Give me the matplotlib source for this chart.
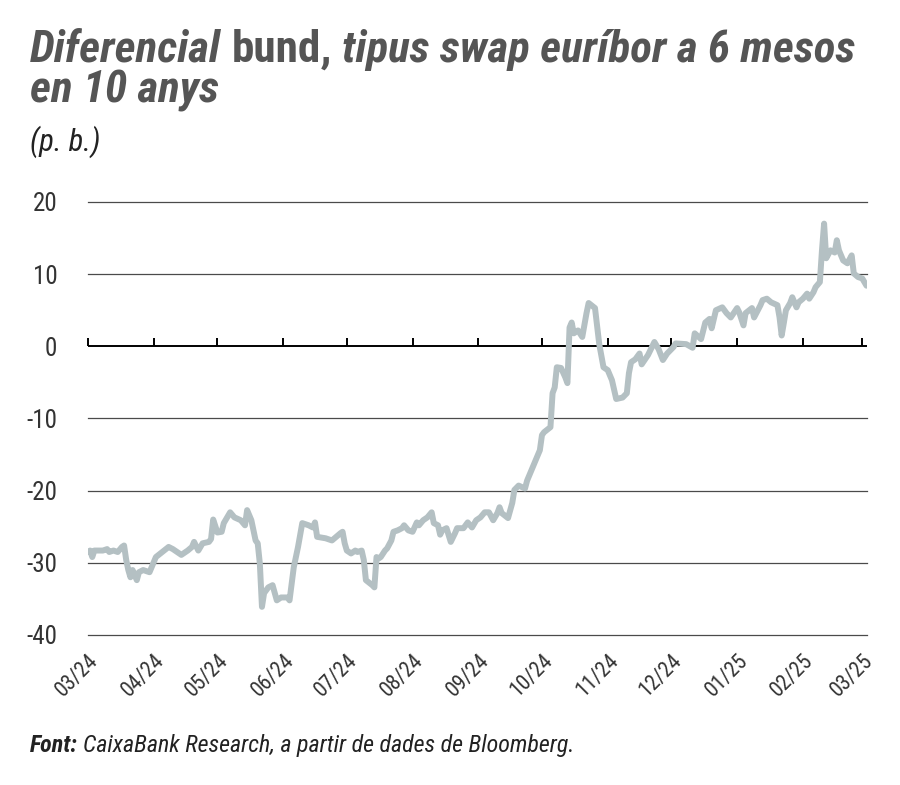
import matplotlib
matplotlib.use('Agg')
import matplotlib.pyplot as plt
import pandas as pd

# spread, basis points
dates = [
    '2024-03-01', '2024-03-02', '2024-03-03', '2024-03-04', '2024-03-08', '2024-03-10',
    '2024-03-11', '2024-03-13', '2024-03-15', '2024-03-17', '2024-03-18', '2024-03-19',
    '2024-03-20', '2024-03-21', '2024-03-22', '2024-03-24', '2024-03-25', '2024-03-27',
    '2024-03-30', '2024-04-02', '2024-04-05', '2024-04-08', '2024-04-10', '2024-04-14',
    '2024-04-17', '2024-04-19', '2024-04-20', '2024-04-22', '2024-04-24', '2024-04-27',
    '2024-04-28', '2024-04-29', '2024-05-01', '2024-05-03', '2024-05-04', '2024-05-07',
    '2024-05-09', '2024-05-12', '2024-05-14', '2024-05-15', '2024-05-17', '2024-05-19',
    '2024-05-20', '2024-05-21', '2024-05-22', '2024-05-23', '2024-05-25', '2024-05-27',
    '2024-05-29', '2024-05-31', '2024-06-03', '2024-06-04', '2024-06-06', '2024-06-08',
    '2024-06-10', '2024-06-13', '2024-06-15', '2024-06-16', '2024-06-17', '2024-06-21',
    '2024-06-24', '2024-06-26', '2024-06-28', '2024-06-29', '2024-06-30', '2024-07-01',
    '2024-07-03', '2024-07-05', '2024-07-06', '2024-07-08', '2024-07-09', '2024-07-10',
    '2024-07-13', '2024-07-14', '2024-07-15', '2024-07-16', '2024-07-17', '2024-07-19',
    '2024-07-20', '2024-07-22', '2024-07-23', '2024-07-25', '2024-07-27', '2024-07-28',
    '2024-07-30', '2024-08-01', '2024-08-03', '2024-08-04', '2024-08-06', '2024-08-08',
    '2024-08-10', '2024-08-11', '2024-08-13', '2024-08-14', '2024-08-15', '2024-08-17',
    '2024-08-19', '2024-08-21', '2024-08-22', '2024-08-25', '2024-08-27', '2024-08-29',
    '2024-08-31', '2024-09-02', '2024-09-04', '2024-09-06', '2024-09-08', '2024-09-10',
    '2024-09-11', '2024-09-12', '2024-09-15', '2024-09-17', '2024-09-18', '2024-09-20',
    '2024-09-23', '2024-09-24', '2024-09-26', '2024-09-28', '2024-09-30', '2024-10-01',
    '2024-10-02', '2024-10-05', '2024-10-06', '2024-10-07', '2024-10-08', '2024-10-10',
    '2024-10-12', '2024-10-13', '2024-10-14', '2024-10-15', '2024-10-16', '2024-10-18',
    '2024-10-20', '2024-10-22', '2024-10-23', '2024-10-26', '2024-10-28', '2024-10-30',
    '2024-11-01', '2024-11-03', '2024-11-05', '2024-11-08', '2024-11-10', '2024-11-11',
    '2024-11-12', '2024-11-14', '2024-11-16', '2024-11-17', '2024-11-20', '2024-11-23',
    '2024-11-25', '2024-11-27', '2024-11-29', '2024-12-02', '2024-12-03', '2024-12-08',
    '2024-12-11', '2024-12-12', '2024-12-15', '2024-12-17', '2024-12-19', '2024-12-20',
    '2024-12-22', '2024-12-25', '2024-12-27', '2024-12-29', '2025-01-01', '2025-01-02',
    '2025-01-04', '2025-01-05', '2025-01-08', '2025-01-09', '2025-01-12', '2025-01-13',
    '2025-01-15', '2025-01-17', '2025-01-20', '2025-01-21', '2025-01-22', '2025-01-23',
    '2025-01-24', '2025-01-26', '2025-01-27', '2025-01-29', '2025-01-30', '2025-02-01',
    '2025-02-03', '2025-02-04', '2025-02-06', '2025-02-07', '2025-02-09', '2025-02-10',
    '2025-02-11', '2025-02-12', '2025-02-14', '2025-02-16', '2025-02-17', '2025-02-18',
    '2025-02-20', '2025-02-22', '2025-02-24', '2025-02-25', '2025-02-27', '2025-03-01',
    '2025-03-03',
]
values = [
    -28.5, -28.3, -29.2, -28.3, -28.3, -28.1,
    -28.5, -28.3, -28.5, -27.8, -27.6, -29.6,
    -31.0, -32.0, -31.0, -32.4, -31.3, -31.0,
    -31.3, -29.2, -28.5, -27.8, -28.1, -28.9,
    -28.3, -27.8, -27.1, -28.3, -27.3, -27.1,
    -26.7, -24.0, -25.8, -25.7, -24.5, -23.0,
    -23.7, -24.1, -24.8, -22.7, -24.1, -26.9,
    -27.3, -30.1, -36.1, -34.2, -33.4, -33.1,
    -35.2, -34.8, -34.8, -35.2, -30.6, -27.8,
    -24.5, -24.8, -25.1, -24.4, -26.4, -26.6,
    -26.9, -26.4, -25.9, -25.7, -27.3, -28.3,
    -28.7, -28.3, -28.5, -28.3, -29.6, -32.4,
    -33.1, -33.4, -29.2, -29.4, -29.2, -28.3,
    -28.0, -26.9, -25.7, -25.5, -25.2, -24.8,
    -25.5, -25.7, -24.4, -24.8, -24.1, -23.7,
    -23.0, -24.5, -24.8, -26.1, -25.5, -25.2,
    -27.1, -25.9, -25.2, -25.2, -24.4, -25.1,
    -24.1, -23.7, -23.0, -23.0, -24.1, -23.1,
    -22.3, -23.1, -23.8, -21.7, -19.9, -19.3,
    -19.7, -18.6, -17.2, -15.8, -14.4, -12.3,
    -11.9, -11.2, -6.5, -5.7, -2.9, -3.0,
    -4.3, -5.1, 2.6, 3.3, 1.8, 2.2,
    1.3, 4.6, 6.0, 5.3, 0.3, -2.9,
    -3.3, -4.7, -7.3, -7.1, -6.5, -3.7,
    -2.2, -1.8, -1.0, -2.5, -1.2, 0.6,
    -0.4, -1.9, -1.0, -0.1, 0.4, 0.3,
    -0.2, 1.8, 1.0, 3.3, 3.8, 2.5,
    5.0, 5.4, 4.6, 4.0, 5.3, 4.7,
    2.9, 4.6, 5.3, 4.0, 5.7, 6.4,
    6.6, 6.1, 5.7, 4.0, 1.5, 3.2,
    5.0, 6.0, 6.8, 5.4, 6.1, 6.6,
    7.3, 6.6, 7.5, 8.2, 8.9, 13.3,
    17.0, 12.2, 13.3, 13.0, 14.7, 13.3,
    11.9, 11.5, 12.6, 10.1, 9.6, 9.4,
    8.4,
]
y_ticks = [20, 10, 0, -10, -20, -30, -40]
month_ticks = pd.date_range('2024-03-01', '2025-03-01', freq='MS')
month_labels = [d.strftime('%m/%y') for d in month_ticks]

NARROW = ['Roboto Condensed', 'Lato', 'DejaVu Sans']
TXT = '#555555'

fig = plt.figure(figsize=(9, 7.85), dpi=100)
ax = fig.add_axes([0.0978, 0.1911, 0.865, 0.5516])

ax.plot(pd.to_datetime(dates), values, color='#b4c0c3', linewidth=4.3,
        solid_joinstyle='round', solid_capstyle='round', zorder=3)

for y in y_ticks:
    if y != 0:
        ax.axhline(y, color='#4a4a4a', linewidth=0.9, zorder=1, clip_on=False)
ax.axhline(0, color='black', linewidth=1.4, zorder=2)
ax.vlines(month_ticks, 0, 1.1, color='black', linewidth=1.4, zorder=2, clip_on=False)

ax.set_ylim(-40, 20)
ax.set_xlim(pd.Timestamp('2024-03-01'), pd.Timestamp('2025-03-03'))
for s in ax.spines.values():
    s.set_visible(False)

ax.set_yticks(y_ticks)
ax.set_yticklabels([str(v) for v in y_ticks], family=NARROW, fontsize=18, color='#333333')
ax.tick_params(axis='y', length=0, pad=22)

ax.set_xticks(month_ticks)
ax.set_xticklabels(month_labels, rotation=45, ha='right', va='top', rotation_mode='anchor',
                   family=NARROW, fontsize=15.5, color='#333333')
ax.tick_params(axis='x', length=0, pad=11)

fig.canvas.draw()
r = fig.canvas.get_renderer()
W = fig.bbox.width


def width_of(txt, size, weight, style):
    t = fig.text(0, 0, txt, fontsize=size, fontweight=weight, fontstyle=style, family=NARROW)
    w = t.get_window_extent(r).width
    t.remove()
    return w


def put_parts(parts, x, y, size, color):
    # lay out mixed-style pieces on one line, left to right
    gap = (width_of('a a', size, parts[0][1], parts[0][2])
           - 2 * width_of('a', size, parts[0][1], parts[0][2])) / W
    for i, (txt, weight, style) in enumerate(parts):
        if i:
            x += gap
        t = fig.text(x, y, txt, fontsize=size, fontweight=weight, fontstyle=style,
                     family=NARROW, color=color, va='baseline', ha='left')
        x = t.get_window_extent(r).x1 / W
    return x


title1 = [('Diferencial', 'bold', 'italic'), ('bund,', 'bold', 'normal'),
          ('tipus swap euríbor a 6 mesos', 'bold', 'italic')]
source = [('Font:', 'bold', 'italic'),
          ('CaixaBank Research, a partir de dades de Bloomberg.', 'normal', 'italic')]


def fit_size(parts, base, target_px):
    w = put_parts(parts, 0, -1, base, TXT)
    for t in fig.texts[:]:
        t.remove()
    return base * (target_px / W) / w


# fit title and source lines to the widths seen in the reference
tsize = fit_size(title1, 29, 825)
ssize = fit_size(source, 14, 548)

put_parts(title1, 30 / W, 1 - 62 / 785, tsize, TXT)
put_parts([('en 10 anys', 'bold', 'italic')], 30 / W, 1 - 103 / 785, tsize, TXT)
fig.text(30 / W, 1 - 151 / 785, '(p. b.)', fontsize=22, fontstyle='italic',
         family=NARROW, color='#222222', va='baseline')

put_parts(source, 30 / W, 1 - 752 / 785, ssize, '#222222')

fig.savefig('out.png', dpi=100)
